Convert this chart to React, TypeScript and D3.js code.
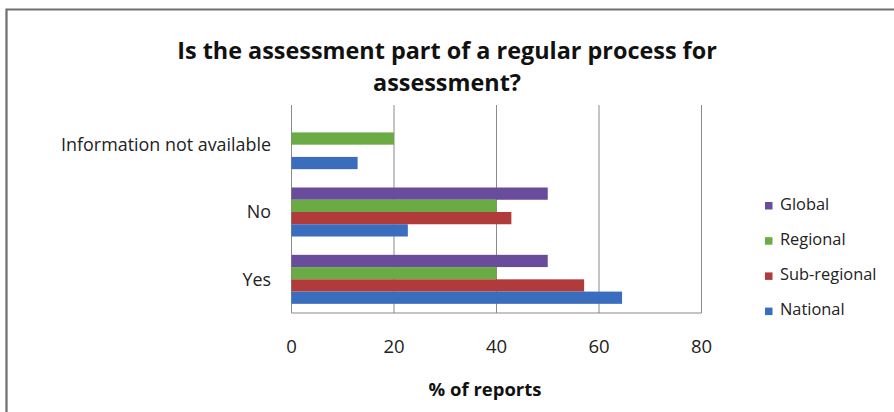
import React from "react";
import * as d3 from "d3";

const categories = ["Information not available", "No", "Yes"];
const seriesNames = ["Global", "Regional", "Sub-regional", "National"];
const globalValues = [0, 50, 50];
const regionalValues = [20, 40, 40];
const subRegionalValues = [0, 42.9, 57.1];
const nationalValues = [12.9, 22.7, 64.5];
const xTicks = [0, 20, 40, 60, 80];
const colors = ["#6A4C9C", "#6AAB45", "#B13A3A", "#3A6DBE"];

const W = 894;
const H = 412;
const FONT = "'Open Sans', sans-serif";

export default function App() {
  const series = [globalValues, regionalValues, subRegionalValues, nationalValues];
  const x = d3.scaleLinear().domain([0, 80]).range([291.5, 701.5]);
  const plotTop = 105;
  const plotBottom = 313;
  const y = d3.scaleBand().domain(categories).range([111, plotBottom]).paddingInner(0.272).paddingOuter(0.136);
  const inner = d3.scaleBand().domain(seriesNames).range([0, y.bandwidth()]);

  return (
    <svg width={W} height={H} style={{ position: "absolute", left: 0, top: 0, background: "#fff" }}>
      <rect x={0} y={0} width={W} height={H} fill="#fff" />
      <path d={`M6.5,${H} V9.5 H${W}`} fill="none" stroke="#6e6e6e" strokeWidth={2.2} />
      <text x={447} y={59} textAnchor="middle" fontFamily={FONT} fontWeight="bold" fontSize={23.4} fill="#111">
        Is the assessment part of a regular process for
      </text>
      <text x={447} y={91} textAnchor="middle" fontFamily={FONT} fontWeight="bold" fontSize={23.4} fill="#111">
        assessment?
      </text>
      {xTicks.map((t) => (
        <line key={"g" + t} x1={x(t)} x2={x(t)} y1={plotTop} y2={plotBottom} stroke="#8a8a8a" strokeWidth={1} />
      ))}
      <line x1={x(0)} x2={x(80)} y1={plotBottom} y2={plotBottom} stroke="#8a8a8a" strokeWidth={1} />
      {categories.map((c, ci) =>
        series.map((vals, si) =>
          vals[ci] > 0 ? (
            <rect
              key={c + si}
              x={x(0)}
              y={(y(c) as number) + (inner(seriesNames[si]) as number)}
              width={x(vals[ci]) - x(0)}
              height={inner.bandwidth()}
              fill={colors[si]}
            />
          ) : null
        )
      )}
      {categories.map((c) => (
        <text key={"l" + c} x={271} y={(y(c) as number) + y.bandwidth() / 2} dy="0.35em" textAnchor="end" fontFamily={FONT} fontSize={17.9} fill="#222">
          {c}
        </text>
      ))}
      {xTicks.map((t) => (
        <text key={"t" + t} x={x(t)} y={347} dy="0.35em" textAnchor="middle" fontFamily={FONT} fontSize={18.5} fill="#222">
          {t}
        </text>
      ))}
      <text x={485} y={390} dy="0.35em" textAnchor="middle" fontFamily={FONT} fontWeight="bold" fontSize={18.5} fill="#111">
        % of reports
      </text>
      {seriesNames.map((s, i) => {
        const ly = 204 + i * 35.2;
        return (
          <g key={"lg" + s}>
            <rect x={765} y={ly - 2} width={7.5} height={7.5} fill={colors[i]} />
            <text x={780} y={ly} dy="0.35em" fontFamily={FONT} fontSize={16.4} fill="#222">
              {s}
            </text>
          </g>
        );
      })}
    </svg>
  );
}
